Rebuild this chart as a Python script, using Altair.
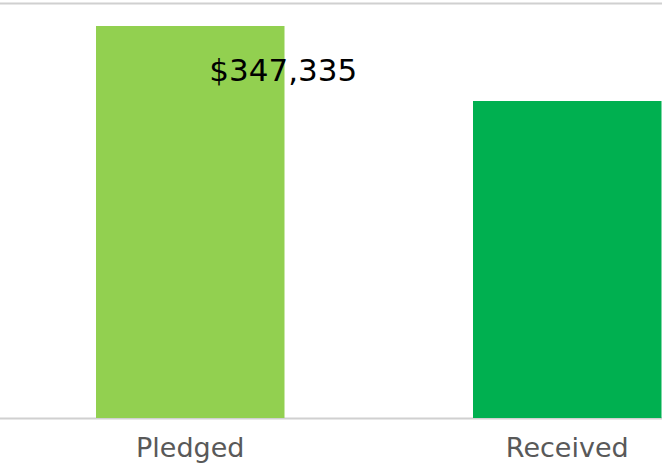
import altair as alt
import pandas as pd

categories = ["Pledged", "Received"]
amounts = [347335, 280900]
bar_colors = ["#92D050", "#00B050"]
label_categories = ["Pledged"]
label_values = [347335]
label_text = ["$347,335"]
y_max = 367700

df = pd.DataFrame({"category": categories, "amount": amounts, "color": bar_colors})
lab = pd.DataFrame({"category": label_categories, "amount": label_values, "text": label_text})

x_enc = alt.X(
    "category:N",
    sort=categories,
    scale=alt.Scale(range=[-92.5, 850], paddingInner=0.5, paddingOuter=0.5),
    axis=alt.Axis(
        title=None, labelAngle=0, ticks=False, tickSize=0, domain=False, grid=False,
        labelFont="DejaVu Sans", labelFontSize=27, labelColor="#595959",
        labelPadding=38, labelBaseline="alphabetic",
    ),
)
y_enc = alt.Y(
    "amount:Q",
    scale=alt.Scale(domain=[0, y_max], nice=False, zero=True),
    axis=alt.Axis(
        title=None, labels=False, ticks=False, domain=False, grid=True,
        values=[0, y_max], gridColor="#d0d0d0", gridWidth=2,
    ),
)

bars = alt.Chart(df).mark_bar().encode(
    x=x_enc,
    y=y_enc,
    color=alt.Color("color:N", scale=None),
)

text = alt.Chart(lab).mark_text(
    font="DejaVu Sans", fontSize=31, color="black", baseline="alphabetic",
    align="center", dx=93, dy=55,
).encode(
    x=alt.X("category:N", sort=categories),
    y=alt.Y("amount:Q"),
    text="text:N",
)

chart = (bars + text).properties(
    width=662,
    height=415,
    background="white",
    padding={"top": 3, "bottom": 49, "left": 0, "right": 0},
    autosize=alt.AutoSizeParams(type="none"),
).configure_view(strokeWidth=0, stroke="transparent")

chart.save("out.html", embed_options={"renderer": "svg", "actions": False})
